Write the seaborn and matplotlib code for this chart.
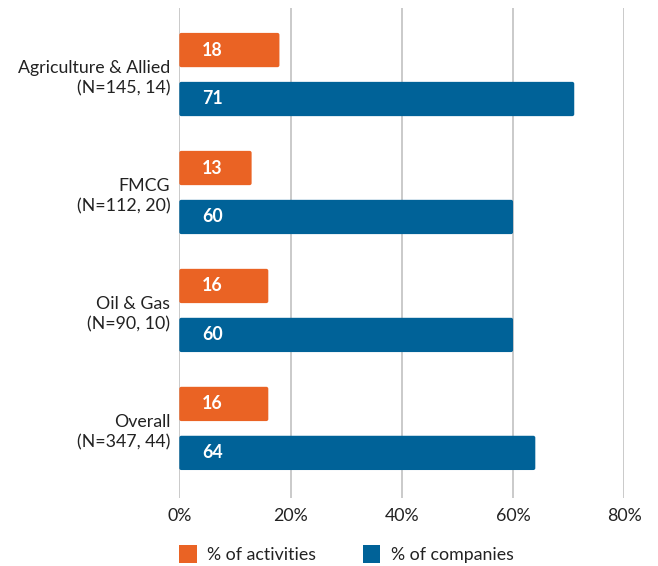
import matplotlib
matplotlib.use("Agg")
import matplotlib.pyplot as plt
from matplotlib.patches import Patch, FancyBboxPatch
import seaborn as sns
import pandas as pd

categories = ["Agriculture & Allied\n(N=145, 14)", "FMCG\n(N=112, 20)",
              "Oil & Gas\n(N=90, 10)", "Overall\n(N=347, 44)"]
series_names = ["% of activities", "% of companies"]
activities = [18, 13, 16, 16]
companies = [71, 60, 60, 64]
x_ticks = [0, 20, 40, 60, 80]
x_tick_labels = ["0%", "20%", "40%", "60%", "80%"]

ORANGE = "#EA6324"
BLUE = "#006298"
GRID = "#C6C6C6"
TEXT = "#222222"
FS = 12.8

sns.set_theme(style="white")
plt.rcParams["font.family"] = ["Lato", "DejaVu Sans"]

df = pd.DataFrame({
    "category": categories * 2,
    "series": [series_names[0]] * len(categories) + [series_names[1]] * len(categories),
    "value": activities + companies,
})

fig = plt.figure(figsize=(6.58, 5.66), dpi=100)
ax = fig.add_axes([0.2725, 0.1201, 0.9488 - 0.2725, 0.9859 - 0.1201])

sns.barplot(data=df, x="value", y="category", hue="series", orient="h",
            palette=[ORANGE, BLUE], width=0.83, gap=0.30, saturation=1,
            legend=False, ax=ax, zorder=3)

ax.set_xlim(0, 80)
ax.set_ylim(3.59, -0.564)

# swap the plain rectangles for ones with slightly rounded corners
bbox = ax.get_window_extent()
px_per_x = bbox.width / 80.0
px_per_y = bbox.height / (3.59 + 0.564)
radius_px = 2.0
for container in ax.containers:
    for bar in container:
        rounded = FancyBboxPatch(
            (bar.get_x(), bar.get_y()), bar.get_width(), bar.get_height(),
            boxstyle=f"round,pad=0,rounding_size={radius_px / px_per_x}",
            mutation_aspect=px_per_x / px_per_y,
            facecolor=bar.get_facecolor(), edgecolor="none", zorder=3)
        ax.add_patch(rounded)
        bar.set_visible(False)

ax.set_xticks(x_ticks)
ax.set_xticklabels(x_tick_labels)
ax.set_xlabel("")
ax.set_ylabel("")
for s in ax.spines.values():
    s.set_visible(False)
ax.grid(False)
for xv in x_ticks:
    ax.axvline(xv, color=GRID, lw=1.3, zorder=1)
ax.tick_params(axis="x", length=0, pad=7, labelsize=FS, labelcolor=TEXT)
ax.tick_params(axis="y", length=0, pad=6.5, labelsize=FS, labelcolor=TEXT)
for lbl in ax.get_yticklabels():
    lbl.set_linespacing(1.35)
    lbl.set_horizontalalignment("right")
    lbl.set_multialignment("right")

# value labels inside the bars
for container in ax.containers:
    for bar, val in zip(container, container.datavalues):
        ax.annotate(f"{val:.0f}", xy=(0, bar.get_y() + bar.get_height() / 2),
                    xytext=(16.5, 0), textcoords="offset points",
                    ha="left", va="center", color="white",
                    fontsize=FS, fontweight="bold", zorder=4)

handles = [Patch(facecolor=ORANGE, edgecolor="none"),
           Patch(facecolor=BLUE, edgecolor="none")]
fig.legend(handles, series_names, loc="center left",
           bbox_to_anchor=(0.2725, 0.021), ncol=2, frameon=False,
           fontsize=FS, handlelength=0.98, handleheight=1.125,
           handletextpad=0.6, columnspacing=2.6, labelcolor=TEXT,
           borderaxespad=0, borderpad=0)

fig.savefig("out.png", dpi=100, facecolor="white")
